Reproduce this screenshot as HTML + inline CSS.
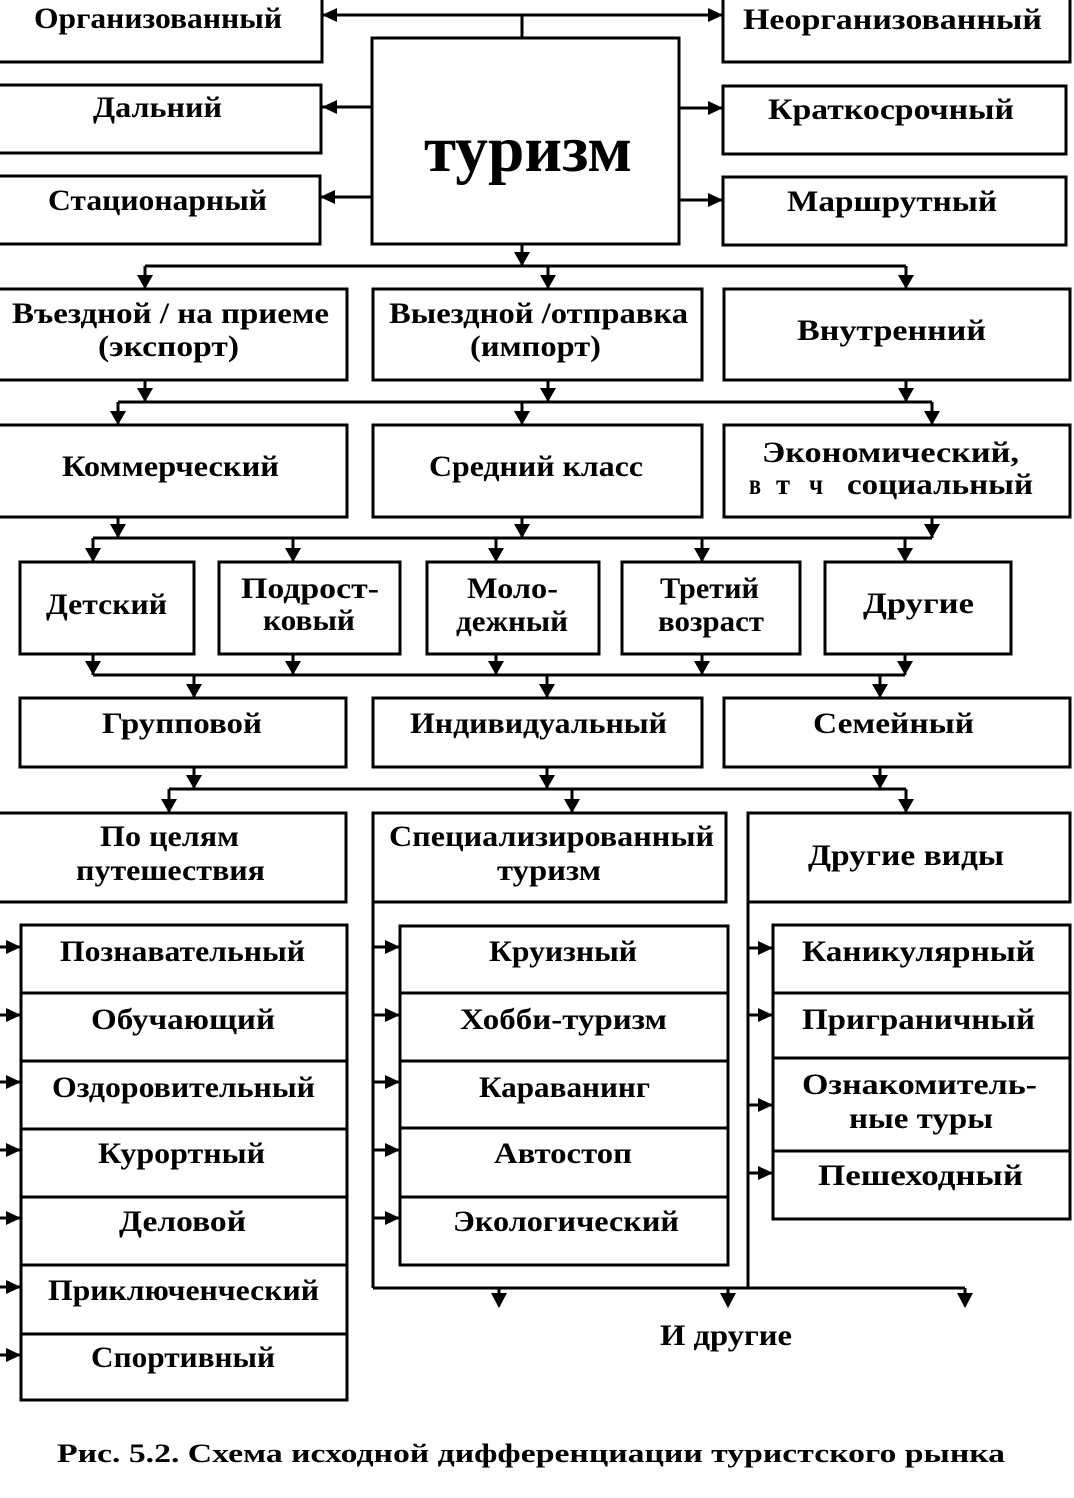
<!DOCTYPE html>
<html lang="ru">
<head>
<meta charset="utf-8">
<title>Схема исходной дифференциации туристского рынка</title>
<style>
  html, body { margin: 0; padding: 0; background: #fff; }
  body { width: 1074px; height: 1498px; overflow: hidden; }
  svg { display: block; }
  text { font-family: "Liberation Serif", "DejaVu Serif", serif; font-weight: bold; font-size: 30px; fill: #000; }
  .b { fill: none; stroke: #000; stroke-width: 3; }
  .l { stroke: #000; stroke-width: 3; fill: none; }
  .a { fill: #000; stroke: none; }
</style>
</head>
<body>
<svg width="1074" height="1498" viewBox="0 0 1074 1498" xmlns="http://www.w3.org/2000/svg">
  <rect x="0" y="0" width="1074" height="1498" fill="#fff"/>

  <!-- ===== Row 1 ===== -->
  <rect class="b" x="-10" y="-10" width="332" height="72"/>
  <rect class="b" x="723" y="-10" width="347" height="72"/>
  <rect class="b" x="-10" y="85" width="331" height="68"/>
  <rect class="b" x="-10" y="176" width="330" height="68"/>
  <rect class="b" x="723" y="86" width="343" height="68"/>
  <rect class="b" x="723" y="177" width="343" height="68"/>
  <rect class="b" x="372" y="38" width="307" height="206"/>

  <!-- row1 connectors -->
  <line class="l" x1="322" y1="15" x2="723" y2="15"/>
  <line class="l" x1="522" y1="15" x2="522" y2="38"/>
  <polygon class="a" points="322,15 337,8 337,22"/>
  <polygon class="a" points="723,15 708,8 708,22"/>
  <line class="l" x1="322" y1="107" x2="372" y2="107"/>
  <polygon class="a" points="322,107 337,100 337,114"/>
  <line class="l" x1="320" y1="197" x2="372" y2="197"/>
  <polygon class="a" points="320,197 335,190 335,204"/>
  <line class="l" x1="679" y1="108" x2="723" y2="108"/>
  <polygon class="a" points="723,108 708,101 708,115"/>
  <line class="l" x1="679" y1="200" x2="723" y2="200"/>
  <polygon class="a" points="723,200 708,193 708,207"/>

  <text x="34" y="28" textLength="248" lengthAdjust="spacingAndGlyphs">Организованный</text>
  <text x="93" y="117" textLength="129" lengthAdjust="spacingAndGlyphs">Дальний</text>
  <text x="48" y="210" textLength="219" lengthAdjust="spacingAndGlyphs">Стационарный</text>
  <text x="743" y="29" textLength="299" lengthAdjust="spacingAndGlyphs">Неорганизованный</text>
  <text x="768" y="119" textLength="246" lengthAdjust="spacingAndGlyphs">Краткосрочный</text>
  <text x="787" y="211" textLength="210" lengthAdjust="spacingAndGlyphs">Маршрутный</text>
  <text x="424" y="171" textLength="208" lengthAdjust="spacingAndGlyphs" style="font-size:66px">туризм</text>

  <!-- connector to row 2 -->
  <line class="l" x1="522" y1="244" x2="522" y2="266"/>
  <polygon class="a" points="514,252 530,252 522,266"/>
  <line class="l" x1="145" y1="266" x2="906" y2="266"/>
  <line class="l" x1="145" y1="266" x2="145" y2="289"/>
  <line class="l" x1="548" y1="266" x2="548" y2="289"/>
  <line class="l" x1="906" y1="266" x2="906" y2="289"/>
  <polygon class="a" points="137,275 153,275 145,289"/>
  <polygon class="a" points="540,275 556,275 548,289"/>
  <polygon class="a" points="898,275 914,275 906,289"/>

  <!-- ===== Row 2 ===== -->
  <rect class="b" x="-10" y="289" width="357" height="91"/>
  <rect class="b" x="373" y="289" width="329" height="91"/>
  <rect class="b" x="724" y="289" width="346" height="91"/>
  <text x="12" y="323" textLength="317" lengthAdjust="spacingAndGlyphs">Въездной / на приеме</text>
  <text x="98" y="356" textLength="141" lengthAdjust="spacingAndGlyphs">(экспорт)</text>
  <text x="389" y="323" textLength="299" lengthAdjust="spacingAndGlyphs">Выездной /отправка</text>
  <text x="470" y="356" textLength="131" lengthAdjust="spacingAndGlyphs">(импорт)</text>
  <text x="797" y="340" textLength="189" lengthAdjust="spacingAndGlyphs">Внутренний</text>

  <!-- connector to row 3 -->
  <line class="l" x1="145" y1="380" x2="145" y2="402"/>
  <line class="l" x1="548" y1="380" x2="548" y2="402"/>
  <line class="l" x1="906" y1="380" x2="906" y2="402"/>
  <polygon class="a" points="137,388 153,388 145,402"/>
  <polygon class="a" points="540,388 556,388 548,402"/>
  <polygon class="a" points="898,388 914,388 906,402"/>
  <line class="l" x1="118" y1="402" x2="932" y2="402"/>
  <line class="l" x1="118" y1="402" x2="118" y2="425"/>
  <line class="l" x1="522" y1="402" x2="522" y2="425"/>
  <line class="l" x1="932" y1="402" x2="932" y2="425"/>
  <polygon class="a" points="110,411 126,411 118,425"/>
  <polygon class="a" points="514,411 530,411 522,425"/>
  <polygon class="a" points="924,411 940,411 932,425"/>

  <!-- ===== Row 3 ===== -->
  <rect class="b" x="-10" y="425" width="357" height="92"/>
  <rect class="b" x="373" y="425" width="329" height="92"/>
  <rect class="b" x="724" y="425" width="346" height="92"/>
  <text x="62" y="476" textLength="217" lengthAdjust="spacingAndGlyphs">Коммерческий</text>
  <text x="429" y="476" textLength="214" lengthAdjust="spacingAndGlyphs">Средний класс</text>
  <text x="762" y="462" textLength="257" lengthAdjust="spacingAndGlyphs">Экономический,</text>
  <text x="749" y="494" textLength="12" lengthAdjust="spacingAndGlyphs">в</text>
  <text x="776" y="494" textLength="14" lengthAdjust="spacingAndGlyphs">т</text>
  <text x="809" y="494" textLength="14" lengthAdjust="spacingAndGlyphs">ч</text>
  <text x="847" y="494" textLength="186" lengthAdjust="spacingAndGlyphs">социальный</text>

  <!-- connector to row 4 -->
  <line class="l" x1="118" y1="517" x2="118" y2="538"/>
  <line class="l" x1="522" y1="517" x2="522" y2="538"/>
  <line class="l" x1="932" y1="517" x2="932" y2="538"/>
  <polygon class="a" points="110,524 126,524 118,538"/>
  <polygon class="a" points="514,524 530,524 522,538"/>
  <polygon class="a" points="924,524 940,524 932,538"/>
  <line class="l" x1="93" y1="538" x2="932" y2="538"/>
  <line class="l" x1="93" y1="538" x2="93" y2="562"/>
  <line class="l" x1="293" y1="538" x2="293" y2="562"/>
  <line class="l" x1="496" y1="538" x2="496" y2="562"/>
  <line class="l" x1="702" y1="538" x2="702" y2="562"/>
  <line class="l" x1="905" y1="538" x2="905" y2="562"/>
  <polygon class="a" points="85,548 101,548 93,562"/>
  <polygon class="a" points="285,548 301,548 293,562"/>
  <polygon class="a" points="488,548 504,548 496,562"/>
  <polygon class="a" points="694,548 710,548 702,562"/>
  <polygon class="a" points="897,548 913,548 905,562"/>

  <!-- ===== Row 4 ===== -->
  <rect class="b" x="20" y="562" width="174" height="92"/>
  <rect class="b" x="219" y="562" width="181" height="92"/>
  <rect class="b" x="427" y="562" width="172" height="92"/>
  <rect class="b" x="622" y="562" width="178" height="92"/>
  <rect class="b" x="825" y="562" width="186" height="92"/>
  <text x="46" y="614" textLength="121" lengthAdjust="spacingAndGlyphs">Детский</text>
  <text x="241" y="598" textLength="138" lengthAdjust="spacingAndGlyphs">Подрост-</text>
  <text x="263" y="630" textLength="92" lengthAdjust="spacingAndGlyphs">ковый</text>
  <text x="467" y="598" textLength="91" lengthAdjust="spacingAndGlyphs">Моло-</text>
  <text x="456" y="631" textLength="112" lengthAdjust="spacingAndGlyphs">дежный</text>
  <text x="660" y="598" textLength="99" lengthAdjust="spacingAndGlyphs">Третий</text>
  <text x="658" y="631" textLength="106" lengthAdjust="spacingAndGlyphs">возраст</text>
  <text x="863" y="613" textLength="111" lengthAdjust="spacingAndGlyphs">Другие</text>

  <!-- connector to row 5 -->
  <line class="l" x1="93" y1="654" x2="93" y2="675"/>
  <line class="l" x1="293" y1="654" x2="293" y2="675"/>
  <line class="l" x1="496" y1="654" x2="496" y2="675"/>
  <line class="l" x1="702" y1="654" x2="702" y2="675"/>
  <line class="l" x1="905" y1="654" x2="905" y2="675"/>
  <polygon class="a" points="85,661 101,661 93,675"/>
  <polygon class="a" points="285,661 301,661 293,675"/>
  <polygon class="a" points="488,661 504,661 496,675"/>
  <polygon class="a" points="694,661 710,661 702,675"/>
  <polygon class="a" points="897,661 913,661 905,675"/>
  <line class="l" x1="93" y1="675" x2="905" y2="675"/>
  <line class="l" x1="194" y1="675" x2="194" y2="698"/>
  <line class="l" x1="547" y1="675" x2="547" y2="698"/>
  <line class="l" x1="880" y1="675" x2="880" y2="698"/>
  <polygon class="a" points="186,684 202,684 194,698"/>
  <polygon class="a" points="539,684 555,684 547,698"/>
  <polygon class="a" points="872,684 888,684 880,698"/>

  <!-- ===== Row 5 ===== -->
  <rect class="b" x="20" y="698" width="326" height="69"/>
  <rect class="b" x="373" y="698" width="329" height="69"/>
  <rect class="b" x="724" y="698" width="346" height="69"/>
  <text x="102" y="733" textLength="160" lengthAdjust="spacingAndGlyphs">Групповой</text>
  <text x="410" y="733" textLength="257" lengthAdjust="spacingAndGlyphs">Индивидуальный</text>
  <text x="813" y="733" textLength="161" lengthAdjust="spacingAndGlyphs">Семейный</text>

  <!-- connector to row 6 -->
  <line class="l" x1="194" y1="767" x2="194" y2="789"/>
  <line class="l" x1="547" y1="767" x2="547" y2="789"/>
  <line class="l" x1="880" y1="767" x2="880" y2="789"/>
  <polygon class="a" points="186,775 202,775 194,789"/>
  <polygon class="a" points="539,775 555,775 547,789"/>
  <polygon class="a" points="872,775 888,775 880,789"/>
  <line class="l" x1="169" y1="789" x2="906" y2="789"/>
  <line class="l" x1="169" y1="789" x2="169" y2="813"/>
  <line class="l" x1="572" y1="789" x2="572" y2="813"/>
  <line class="l" x1="906" y1="789" x2="906" y2="813"/>
  <polygon class="a" points="161,799 177,799 169,813"/>
  <polygon class="a" points="564,799 580,799 572,813"/>
  <polygon class="a" points="898,799 914,799 906,813"/>

  <!-- ===== Row 6 ===== -->
  <rect class="b" x="-10" y="813" width="356" height="89"/>
  <rect class="b" x="373" y="813" width="353" height="89"/>
  <rect class="b" x="748" y="813" width="322" height="89"/>
  <text x="100" y="846" textLength="139" lengthAdjust="spacingAndGlyphs">По целям</text>
  <text x="76" y="880" textLength="189" lengthAdjust="spacingAndGlyphs">путешествия</text>
  <text x="389" y="846" textLength="325" lengthAdjust="spacingAndGlyphs">Специализированный</text>
  <text x="497" y="880" textLength="104" lengthAdjust="spacingAndGlyphs">туризм</text>
  <text x="808" y="865" textLength="196" lengthAdjust="spacingAndGlyphs">Другие виды</text>

  <!-- ===== Sublist 1 ===== -->
  <rect class="b" x="21" y="925" width="326" height="475"/>
  <line class="l" x1="21" y1="993" x2="347" y2="993"/>
  <line class="l" x1="21" y1="1061" x2="347" y2="1061"/>
  <line class="l" x1="21" y1="1129" x2="347" y2="1129"/>
  <line class="l" x1="21" y1="1197" x2="347" y2="1197"/>
  <line class="l" x1="21" y1="1265" x2="347" y2="1265"/>
  <line class="l" x1="21" y1="1334" x2="347" y2="1334"/>
  <g>
    <line class="l" x1="-2" y1="947" x2="21" y2="947"/><polygon class="a" points="21,947 6,940 6,954"/>
    <line class="l" x1="-2" y1="1015" x2="21" y2="1015"/><polygon class="a" points="21,1015 6,1008 6,1022"/>
    <line class="l" x1="-2" y1="1082" x2="21" y2="1082"/><polygon class="a" points="21,1082 6,1075 6,1089"/>
    <line class="l" x1="-2" y1="1150" x2="21" y2="1150"/><polygon class="a" points="21,1150 6,1143 6,1157"/>
    <line class="l" x1="-2" y1="1218" x2="21" y2="1218"/><polygon class="a" points="21,1218 6,1211 6,1225"/>
    <line class="l" x1="-2" y1="1287" x2="21" y2="1287"/><polygon class="a" points="21,1287 6,1280 6,1294"/>
    <line class="l" x1="-2" y1="1355" x2="21" y2="1355"/><polygon class="a" points="21,1355 6,1348 6,1362"/>
  </g>
  <text x="60" y="961" textLength="245" lengthAdjust="spacingAndGlyphs">Познавательный</text>
  <text x="91" y="1029" textLength="184" lengthAdjust="spacingAndGlyphs">Обучающий</text>
  <text x="52" y="1097" textLength="263" lengthAdjust="spacingAndGlyphs">Оздоровительный</text>
  <text x="98" y="1163" textLength="167" lengthAdjust="spacingAndGlyphs">Курортный</text>
  <text x="119" y="1231" textLength="127" lengthAdjust="spacingAndGlyphs">Деловой</text>
  <text x="48" y="1300" textLength="271" lengthAdjust="spacingAndGlyphs">Приключенческий</text>
  <text x="91" y="1367" textLength="184" lengthAdjust="spacingAndGlyphs">Спортивный</text>

  <!-- ===== Sublist 2 ===== -->
  <line class="l" x1="373" y1="902" x2="373" y2="1288"/>
  <rect class="b" x="400" y="926" width="328" height="339"/>
  <line class="l" x1="400" y1="993" x2="728" y2="993"/>
  <line class="l" x1="400" y1="1061" x2="728" y2="1061"/>
  <line class="l" x1="400" y1="1128" x2="728" y2="1128"/>
  <line class="l" x1="400" y1="1197" x2="728" y2="1197"/>
  <g>
    <line class="l" x1="373" y1="947" x2="400" y2="947"/><polygon class="a" points="400,947 385,940 385,954"/>
    <line class="l" x1="373" y1="1015" x2="400" y2="1015"/><polygon class="a" points="400,1015 385,1008 385,1022"/>
    <line class="l" x1="373" y1="1082" x2="400" y2="1082"/><polygon class="a" points="400,1082 385,1075 385,1089"/>
    <line class="l" x1="373" y1="1150" x2="400" y2="1150"/><polygon class="a" points="400,1150 385,1143 385,1157"/>
    <line class="l" x1="373" y1="1218" x2="400" y2="1218"/><polygon class="a" points="400,1218 385,1211 385,1225"/>
  </g>
  <text x="489" y="961" textLength="148" lengthAdjust="spacingAndGlyphs">Круизный</text>
  <text x="460" y="1029" textLength="207" lengthAdjust="spacingAndGlyphs">Хобби-туризм</text>
  <text x="479" y="1097" textLength="171" lengthAdjust="spacingAndGlyphs">Караванинг</text>
  <text x="494" y="1163" textLength="138" lengthAdjust="spacingAndGlyphs">Автостоп</text>
  <text x="453" y="1231" textLength="226" lengthAdjust="spacingAndGlyphs">Экологический</text>

  <!-- ===== Sublist 3 ===== -->
  <line class="l" x1="748" y1="902" x2="748" y2="1288"/>
  <rect class="b" x="773" y="925" width="297" height="294"/>
  <line class="l" x1="773" y1="993" x2="1070" y2="993"/>
  <line class="l" x1="773" y1="1058" x2="1070" y2="1058"/>
  <line class="l" x1="773" y1="1151" x2="1070" y2="1151"/>
  <g>
    <line class="l" x1="748" y1="948" x2="773" y2="948"/><polygon class="a" points="773,948 758,941 758,955"/>
    <line class="l" x1="748" y1="1015" x2="773" y2="1015"/><polygon class="a" points="773,1015 758,1008 758,1022"/>
    <line class="l" x1="748" y1="1105" x2="773" y2="1105"/><polygon class="a" points="773,1105 758,1098 758,1112"/>
    <line class="l" x1="748" y1="1173" x2="773" y2="1173"/><polygon class="a" points="773,1173 758,1166 758,1180"/>
  </g>
  <text x="802" y="961" textLength="233" lengthAdjust="spacingAndGlyphs">Каникулярный</text>
  <text x="802" y="1029" textLength="233" lengthAdjust="spacingAndGlyphs">Приграничный</text>
  <text x="802" y="1094" textLength="235" lengthAdjust="spacingAndGlyphs">Ознакомитель-</text>
  <text x="849" y="1128" textLength="144" lengthAdjust="spacingAndGlyphs">ные туры</text>
  <text x="818" y="1185" textLength="205" lengthAdjust="spacingAndGlyphs">Пешеходный</text>

  <!-- bottom connector -->
  <line class="l" x1="373" y1="1288" x2="965" y2="1288"/>
  <line class="l" x1="499" y1="1288" x2="499" y2="1306"/>
  <line class="l" x1="728" y1="1288" x2="728" y2="1306"/>
  <line class="l" x1="965" y1="1288" x2="965" y2="1306"/>
  <polygon class="a" points="491,1293 507,1293 499,1308"/>
  <polygon class="a" points="720,1293 736,1293 728,1308"/>
  <polygon class="a" points="957,1293 973,1293 965,1308"/>
  <text x="660" y="1345" textLength="132" lengthAdjust="spacingAndGlyphs">И другие</text>

  <!-- caption -->
  <text x="57" y="1462" textLength="948" lengthAdjust="spacingAndGlyphs" style="font-size:26px">Рис. 5.2. Схема исходной дифференциации туристского рынка</text>
</svg>
</body>
</html>
